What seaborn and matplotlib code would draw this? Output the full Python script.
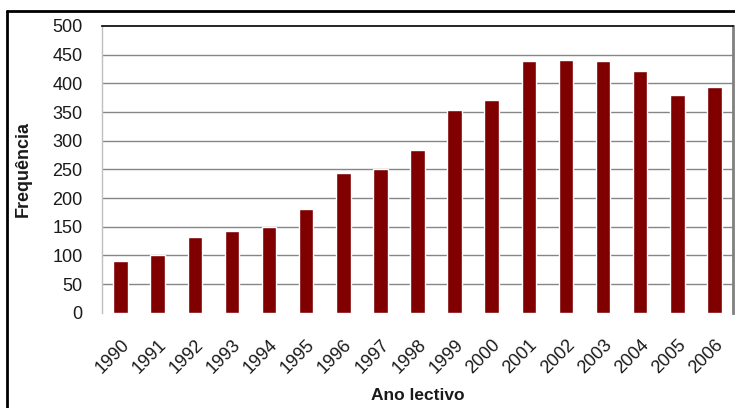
import matplotlib
matplotlib.use("Agg")
import matplotlib.pyplot as plt
import seaborn as sns
import pandas as pd
from matplotlib.lines import Line2D

years = ["1990", "1991", "1992", "1993", "1994", "1995", "1996", "1997", "1998",
         "1999", "2000", "2001", "2002", "2003", "2004", "2005", "2006"]
freq = [90, 100, 132, 142, 149, 181, 244, 250, 284, 353, 371, 439, 441, 439, 422, 380, 394]
y_ticks = [0, 50, 100, 150, 200, 250, 300, 350, 400, 450, 500]

sns.set_theme(style="white")
plt.rcParams['font.family'] = ['Liberation Sans', 'DejaVu Sans']

df = pd.DataFrame({"Ano": years, "Freq": freq})

fig = plt.figure(figsize=(7.35, 4.08), dpi=100)
ax = fig.add_axes([102/735, 1 - 312.7/408, (733 - 102)/735, (312.7 - 26)/408])

sns.barplot(data=df, x="Ano", y="Freq", color="#800000", saturation=1,
            width=0.39, ax=ax, zorder=3)

ax.set_ylim(0, 500)
ax.set_xlim(-0.5, len(years) - 0.5)
ax.set_yticks(y_ticks)
ax.set_yticklabels([str(v) for v in y_ticks], fontsize=13, color="#1a1a1a")
ax.tick_params(axis='y', length=0, pad=14)
ax.tick_params(axis='x', length=0, pad=17)
plt.setp(ax.get_xticklabels(), rotation=45, ha='right', rotation_mode='anchor',
         fontsize=13, color="#1a1a1a")

for v in y_ticks[1:-1]:
    ax.axhline(v, color="#868686", lw=1.0, zorder=1)

for side in ["left", "bottom", "right", "top"]:
    ax.spines[side].set_visible(True)
ax.spines["left"].set_color("#bfbfbf")
ax.spines["left"].set_linewidth(1.0)
ax.spines["bottom"].set_visible(False)
ax.spines["top"].set_color("black")
ax.spines["top"].set_linewidth(1.2)
ax.spines["right"].set_color("#808080")
ax.spines["right"].set_linewidth(2.0)

ax.set_xlabel("Ano lectivo", fontsize=12.5, fontweight="bold", color="#1a1a1a", va="center")
ax.set_ylabel("Frequência", fontsize=13, fontweight="bold", color="#1a1a1a", va="center")
ax.xaxis.set_label_coords(0.5, (312.7 - 396) / 286.7)
ax.yaxis.set_label_coords((23 - 102) / 631, 0.5)

# outer frame of chart area (cropped at right and bottom)
fig.add_artist(Line2D([7/735, 7/735], [0, 1 - 11/408], transform=fig.transFigure,
                      color="black", lw=2.0))
fig.add_artist(Line2D([7/735, 1], [1 - 11/408, 1 - 11/408], transform=fig.transFigure,
                      color="black", lw=2.0))

fig.savefig("out.png", dpi=100)
